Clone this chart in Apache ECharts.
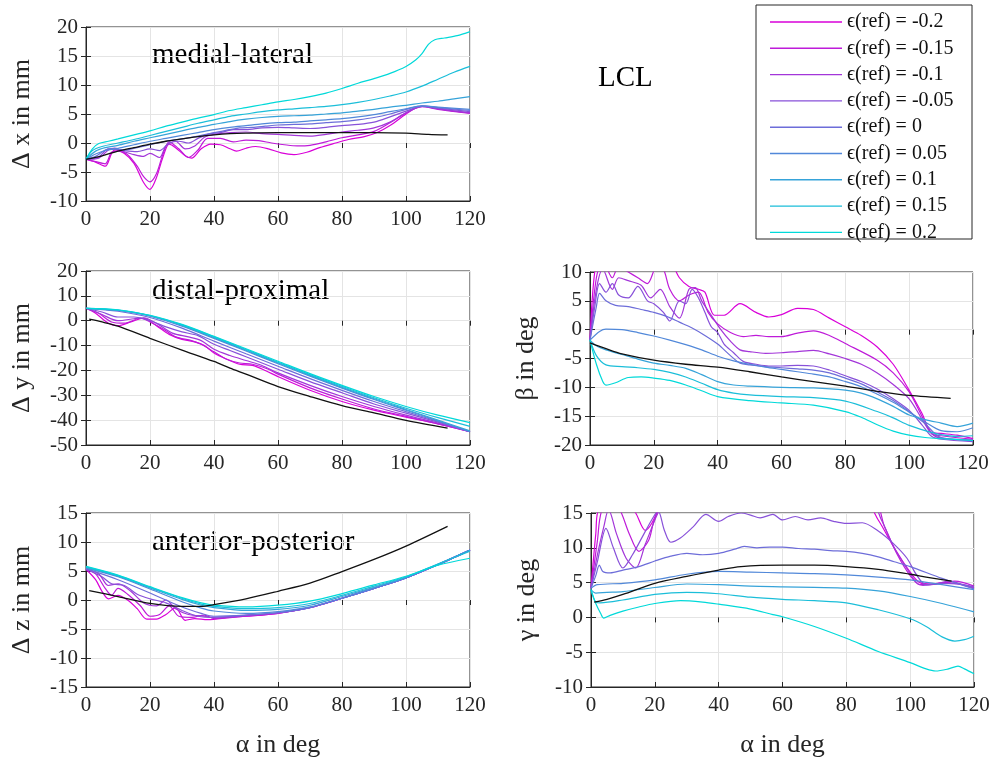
<!DOCTYPE html>
<html>
<head>
<meta charset="utf-8">
<script src="https://cdn.jsdelivr.net/npm/echarts@6/dist/echarts.min.js"></script>
<style>
  html, body { margin: 0; background: #fff; }
  #main { width: 995px; height: 761px; }
</style>
</head>
<body>
<div id="main"></div>
<script>
// Legend labels, one per reference strain
var epsLabels = ['ϵ(ref) = -0.2', 'ϵ(ref) = -0.15', 'ϵ(ref) = -0.1', 'ϵ(ref) = -0.05',
  'ϵ(ref) = 0', 'ϵ(ref) = 0.05', 'ϵ(ref) = 0.1', 'ϵ(ref) = 0.15', 'ϵ(ref) = 0.2'];

// Delta x (medial-lateral), [alpha, value]
var dxRef = [[0,-2.8],[5,-2.2],[10,-1.4],[15,-0.8],[20,-0.2],[25,0.3],[30,0.7],[35,1.1],[40,1.4],[45,1.6],[50,1.7],[60,1.8],[70,1.8],[80,1.8],[90,1.8],[100,1.7],[107,1.5],[113,1.4]];
var dxLines = [
  [[0,-2.8],[3,-3.3],[6,-4],[8,-1.8],[9,-1.2],[12,-1.8],[15,-3.5],[18,-6.8],[20,-8],[22,-6],[24,-2.5],[26,-0.2],[28,-0.8],[31,-2.2],[33,-2.6],[36,-1],[39,-0.2],[42,-0.3],[45,-1],[47,-1.4],[50,-0.9],[53,-0.6],[57,-1],[61,-1.7],[65,-2],[69,-1.6],[73,-0.8],[78,0],[82,0.6],[87,1.1],[91,1.8],[95,3],[100,5],[103,6],[106,6.3],[110,5.9],[115,5.5],[120,5.2]],
  [[0,-2.8],[3,-3.2],[6,-3.6],[8,-1.6],[10,-1.4],[13,-2],[16,-4],[18,-5.8],[20,-6.7],[22,-5.3],[24,-2],[26,0.2],[29,-1],[32,-2.5],[35,-1.2],[38,0.8],[42,0.8],[46,0.2],[50,0.5],[54,0.4],[58,0],[62,-0.3],[66,-0.5],[70,-0.4],[75,0.2],[80,0.9],[85,1.4],[90,2],[95,3.5],[100,5.2],[105,6.3],[110,5.8],[120,5.1]],
  [[0,-2.8],[4,-2.6],[7,-1.2],[9,-0.9],[12,-1.5],[15,-2],[18,-2.3],[20,-1.8],[23,-2.5],[25,-0.5],[28,0.3],[31,-1],[34,-0.5],[37,1],[40,1.5],[45,1.8],[50,1.9],[55,1.6],[60,1.5],[65,1.3],[70,1.2],[75,1.5],[80,1.9],[85,2.2],[90,2.6],[95,3.6],[100,5.2],[105,6.3],[110,5.9],[120,5.2]],
  [[0,-2.8],[4,-2.4],[7,-1],[9,-1],[12,-1.3],[16,-1.5],[20,-1],[23,-1.3],[26,0],[29,0.3],[32,0],[35,0.8],[38,1.5],[42,1.8],[46,2.3],[50,2.3],[55,2.6],[60,2.7],[65,2.6],[70,2.5],[75,2.7],[80,3],[85,3.2],[90,3.6],[95,4.5],[100,5.5],[105,6.3],[110,6],[120,5.4]],
  [[0,-2.8],[3,-2.3],[6,-1.2],[8,-1],[12,-1.2],[16,-0.8],[20,-0.3],[25,0.3],[30,0.7],[35,1.2],[40,1.8],[45,2.3],[48,2.6],[52,2.7],[56,2.9],[60,3.1],[65,3.2],[70,3.3],[75,3.5],[80,3.7],[85,4],[90,4.4],[95,5],[100,5.8],[105,6.4],[110,6.1],[120,5.6]],
  [[0,-2.8],[3,-1.9],[6,-1.3],[10,-0.9],[15,-0.3],[20,0.3],[25,0.8],[30,1.3],[35,1.8],[40,2.3],[45,2.7],[50,3],[55,3.3],[60,3.5],[65,3.6],[70,3.8],[75,4],[80,4.2],[85,4.5],[90,4.9],[95,5.4],[100,5.9],[105,6.4],[110,6.2],[120,5.8]],
  [[0,-2.8],[3,-1.4],[6,-0.8],[10,-0.4],[15,0.3],[20,0.9],[25,1.5],[30,2.1],[35,2.7],[40,3.2],[45,3.7],[50,4.1],[55,4.4],[60,4.6],[65,4.7],[70,4.8],[75,5],[80,5.2],[85,5.5],[90,5.8],[95,6.2],[100,6.5],[105,6.9],[110,7.2],[115,7.6],[120,8]],
  [[0,-2.8],[2,-1.3],[5,-0.6],[10,0],[15,0.6],[20,1.3],[25,2],[30,2.7],[35,3.4],[40,4],[45,4.6],[50,5],[55,5.4],[60,5.7],[65,5.9],[70,6.1],[75,6.3],[80,6.6],[85,7],[90,7.5],[95,8.1],[100,8.8],[105,9.8],[110,11],[115,12.2],[120,13.2]],
  [[0,-2.8],[2,-1],[4,-0.1],[7,0.3],[10,0.7],[15,1.4],[20,2.1],[25,2.9],[30,3.6],[35,4.3],[40,4.9],[45,5.6],[50,6.1],[55,6.6],[60,7.1],[65,7.5],[70,8],[75,8.6],[80,9.4],[85,10.3],[90,11.1],[95,12],[100,13.2],[103,14.3],[105,15.4],[107,17],[109,17.8],[112,18.1],[116,18.5],[120,19.2]]
];

// Delta y (distal-proximal)
var dyRef = [[1,0.6],[5,-0.5],[10,-2.2],[20,-7.1],[30,-11.8],[40,-16.4],[45,-19.1],[50,-21.5],[60,-26.5],[70,-30.5],[80,-34.2],[90,-37.1],[100,-40.1],[113,-43.2]];
var dyLines = [
  [[0,5],[3,3],[7,-1],[10,-2],[14,-0.5],[18,1],[22,-2],[26,-5.5],[30,-7.5],[34,-8.5],[37,-10],[40,-13],[44,-15.5],[48,-17.5],[52,-18],[56,-20],[60,-22.5],[70,-28],[80,-32.5],[90,-36],[100,-38.8],[110,-41.5],[120,-44.6]],
  [[0,5],[4,3],[8,-0.5],[12,-1],[17,1],[20,-0.5],[25,-4],[28,-6.5],[33,-8],[36,-9.5],[40,-12.5],[44,-15.5],[48,-17],[52,-17.5],[57,-19.5],[60,-21.5],[70,-27],[80,-31.5],[90,-35.5],[100,-38.5],[110,-41.5],[120,-44.6]],
  [[0,5],[5,2.5],[10,0],[15,0.8],[18,1.2],[22,-1],[27,-5],[32,-6.5],[36,-8],[40,-11.5],[45,-14],[50,-16],[55,-18],[60,-21],[70,-26],[80,-30.5],[90,-34.5],[100,-38],[110,-41.2],[120,-44.6]],
  [[0,5],[5,3.5],[10,1.5],[15,1.5],[20,0],[25,-2.5],[30,-4.5],[35,-6],[40,-9.5],[45,-12],[50,-14.5],[60,-19.5],[70,-24.5],[80,-29],[90,-33.5],[100,-37.2],[110,-40.8],[120,-44.6]],
  [[0,5],[10,3.8],[20,1.3],[30,-3],[40,-8.2],[50,-13.3],[60,-18.3],[70,-23.3],[80,-28],[90,-32.5],[100,-36.6],[110,-40.5],[120,-44.6]],
  [[0,5],[10,4.1],[20,1.8],[30,-2.2],[40,-7.1],[50,-12.2],[60,-17.3],[70,-22.3],[80,-27.1],[90,-31.7],[100,-36],[110,-40.3],[120,-44.6]],
  [[0,5],[10,4.2],[20,2],[30,-1.9],[40,-6.8],[50,-11.9],[60,-17],[70,-22],[80,-26.8],[90,-31.4],[100,-35.7],[110,-40],[120,-44.3]],
  [[0,5],[10,4.3],[20,2.1],[30,-1.7],[40,-6.5],[50,-11.6],[60,-16.7],[70,-21.7],[80,-26.4],[90,-31],[100,-35.2],[110,-39],[120,-42.5]],
  [[0,5],[10,4.4],[20,2.2],[30,-1.5],[40,-6.3],[50,-11.3],[60,-16.3],[70,-21.3],[80,-26],[90,-30.5],[100,-34.5],[110,-38],[120,-41]]
];

// Delta z (anterior-posterior)
var dzRef = [[1,1.6],[10,0.6],[20,-0.6],[30,-1.1],[36,-1.1],[40,-0.8],[50,0.2],[60,1.5],[70,2.9],[80,4.9],[90,7],[100,9.3],[113,12.7]];
var dzLines = [
  [[0,5.3],[3,3.5],[5,1.5],[7,0.2],[10,0.8],[13,0],[16,-1.5],[19,-3.3],[22,-3.3],[25,-2.5],[28,-1.3],[31,-3.5],[34,-3.2],[38,-3.4],[45,-3],[50,-2.8],[60,-2.3],[70,-1.3],[80,0.3],[90,2],[100,3.8],[110,6.1],[120,8.6]],
  [[0,5.3],[3,4.5],[6,2],[8,0.8],[10,2],[13,1],[17,-1],[20,-2.8],[23,-2.5],[26,-1],[29,-2.8],[33,-3],[37,-2.6],[40,-3.2],[50,-2.8],[60,-2.3],[70,-1.3],[80,0.3],[90,2],[100,3.8],[110,6.1],[120,8.6]],
  [[0,5.3],[4,4.5],[7,2.5],[10,2.8],[14,1.5],[18,-0.5],[22,-1],[25,0],[28,-1.5],[32,-2.5],[37,-2.8],[40,-3.1],[50,-2.7],[60,-2.2],[70,-1.3],[80,0.3],[90,2],[100,3.8],[110,6.1],[120,8.6]],
  [[0,5.3],[5,4],[8,2.8],[12,2.5],[16,1],[20,0.2],[25,-0.5],[30,-1.8],[35,-2.8],[40,-3],[50,-2.6],[60,-2.2],[70,-1.3],[80,0.3],[90,2],[100,3.8],[110,6.1],[120,8.6]],
  [[0,5.4],[10,3.5],[20,1.2],[30,-1.2],[36,-2.3],[40,-2.8],[50,-2.6],[60,-2.2],[70,-1.3],[80,0.3],[90,2],[100,3.8],[110,6.1],[120,8.6]],
  [[0,5.5],[10,4],[20,1.9],[30,-0.3],[36,-1.4],[40,-1.9],[50,-2.3],[60,-2],[70,-1.2],[80,0.3],[90,2],[100,3.8],[110,6.1],[120,8.6]],
  [[0,5.6],[10,4.1],[20,2.1],[30,0.1],[36,-0.9],[40,-1.3],[50,-1.8],[60,-1.6],[70,-0.9],[80,0.6],[90,2.2],[100,3.9],[110,6.2],[120,8.6]],
  [[0,5.7],[10,4.2],[20,2.2],[30,0.3],[36,-0.7],[40,-1.1],[50,-1.5],[60,-1.3],[70,-0.6],[80,0.8],[90,2.4],[100,4],[110,6.2],[120,8.4]],
  [[0,5.8],[10,4.3],[20,2.3],[30,0.4],[36,-0.5],[40,-0.9],[50,-1.2],[60,-0.9],[70,-0.2],[80,1.1],[90,2.6],[100,4.1],[110,6],[120,7.2]]
];

// beta in deg
var betaRef = [[0,-2.3],[5,-3.3],[10,-4.2],[20,-5.3],[30,-6],[40,-6.5],[50,-7.3],[60,-8.2],[70,-9],[80,-9.8],[90,-10.7],[100,-11.4],[113,-11.9]];
var betaLines = [
  [[0,-1.8],[2,12],[5,14],[10,12],[15,11],[20,13],[25,12],[28,9],[31,7.5],[34,7],[36,6.5],[39,2.5],[42,2.5],[47,4.5],[52,3],[56,2.2],[60,2.6],[65,3.7],[70,3.5],[75,2],[80,0.5],[85,-1],[90,-3],[95,-6],[100,-10.5],[104,-14.5],[107,-17.8],[110,-18],[115,-18.3],[120,-18.9]],
  [[0,-1.8],[2,9],[4,12],[7,9],[9,11],[12,10],[15,9],[18,8],[21,11],[23,10.5],[25,7],[28,5],[31,6],[34,6.5],[37,3],[40,1],[44,-0.5],[48,-1.2],[52,-1],[56,-1.2],[60,-1.2],[65,-0.6],[70,-0.2],[75,-1],[80,-2.4],[90,-5.3],[95,-7.5],[100,-10.8],[104,-15],[107,-18],[110,-18.4],[120,-19]],
  [[0,-1.8],[2,7],[4,10.5],[7,7],[9,9],[12,8.5],[16,7.7],[19,5.5],[22,7],[25,4],[28,2],[31,7],[33,7.3],[35,5],[38,2.5],[41,0],[44,-2],[47,-3.5],[50,-3.8],[55,-4.1],[60,-4],[65,-3.8],[70,-3.6],[75,-4.2],[80,-5],[85,-6],[90,-7.5],[95,-9.5],[100,-12],[104,-15.5],[107,-18],[110,-18.8],[120,-19.1]],
  [[0,-1.8],[1.5,4],[3,8],[5,6.5],[7,8],[9,6],[12,5.5],[15,7.5],[18,5],[20,4.5],[23,3],[25,1.5],[28,5],[30,4.5],[32,7],[34,5.5],[36,3],[38,0.5],[40,-0.5],[42,-2.5],[45,-4],[48,-5.5],[52,-6],[56,-6.3],[60,-6.3],[65,-6.2],[70,-6.3],[75,-7],[80,-8],[85,-9],[90,-10.3],[95,-12],[100,-14],[104,-16.5],[107,-18.5],[110,-19],[120,-19.4]],
  [[0,-1.8],[2,4],[3,6.3],[5,5],[8,4.2],[12,4],[16,3.5],[20,3],[24,2.3],[28,1.3],[32,0.3],[36,-1],[40,-2.5],[44,-4.5],[47,-5.8],[50,-6.1],[55,-6.4],[60,-6.6],[65,-6.8],[70,-7],[75,-7.5],[80,-8.4],[85,-9.4],[90,-10.8],[95,-12.3],[100,-14.2],[105,-16.3],[108,-18],[110,-18.7],[120,-19.3]],
  [[0,-1.8],[3,-0.3],[5,0.1],[10,0],[15,-0.5],[20,-1.1],[25,-1.8],[30,-2.6],[35,-3.5],[40,-4.6],[45,-5.4],[50,-6],[55,-6.5],[60,-6.9],[65,-7.3],[70,-7.7],[75,-8.2],[80,-9],[85,-9.9],[90,-11.2],[95,-12.6],[100,-14.3],[105,-16],[110,-17.5],[115,-17.7],[120,-17]],
  [[0,-1.8],[2,-2.8],[5,-3.5],[10,-4.3],[15,-5.1],[20,-5.8],[25,-6.2],[30,-6.7],[35,-7.8],[40,-9],[45,-9.6],[50,-9.8],[60,-10],[70,-10.1],[80,-10.5],[85,-11],[90,-12],[95,-13.3],[100,-14.8],[105,-15.6],[110,-16.2],[115,-16.8],[120,-16.2]],
  [[0,-1.8],[2,-4.5],[5,-6.1],[10,-6.4],[15,-6.6],[20,-6.9],[25,-7.4],[30,-8.2],[35,-9.3],[40,-10.4],[45,-11],[50,-11.3],[60,-11.6],[70,-11.8],[80,-12.4],[90,-14.2],[95,-15.3],[100,-16.6],[105,-17.5],[110,-18.2],[115,-18.5],[120,-18.4]],
  [[0,-1.8],[2,-6],[4,-9],[5,-9.6],[8,-9.2],[12,-8.3],[16,-8.2],[20,-8.4],[25,-8.8],[30,-9.6],[35,-10.6],[40,-11.6],[50,-12.3],[60,-12.7],[70,-13.1],[80,-14.2],[85,-15.2],[90,-16.5],[95,-17.6],[100,-18.3],[105,-18.7],[110,-18.9],[120,-19.2]]
];

// gamma in deg
var gammaRef = [[1,2.2],[5,2.6],[10,3.3],[20,4.9],[30,5.9],[40,6.8],[47,7.3],[60,7.5],[70,7.5],[80,7.3],[90,6.9],[100,6.2],[105,5.8],[113,5.2]];
var gammaLines = [
  [[0,4.2],[1.5,12],[2.5,15.5],[12,16],[14,15],[17,12.5],[19,13.5],[21,15.5],[22,17],[85,17],[90,14],[95,10],[100,6.5],[103,5],[107,4.8],[110,5],[115,4.8],[120,4.2]],
  [[0,4.2],[2,11],[3.5,15.5],[7,16],[9,15.5],[12,12],[15,9.5],[18,11],[19.5,13.5],[21,15.5],[22,17],[88,17],[92,13],[96,9],[100,6],[103,4.7],[106,4.7],[110,4.9],[114,5.2],[120,4.5]],
  [[0,4.2],[2,9],[4,13],[5.5,15.5],[8,12],[11,8.5],[14,7.1],[17,10.5],[20,14],[21.5,15.5],[23,17],[87,17],[91,14],[95,10],[99,7],[102,5],[104,4.6],[108,4.8],[112,5.2],[116,4.8],[120,4.3]],
  [[0,4.2],[2,8],[4.7,12.8],[7,10],[10,7.1],[13,9],[16,11.5],[19,14],[21,15.3],[23,12.5],[25,10.8],[28,11.4],[32,13],[36,14.8],[40,13.8],[43,14.5],[47,15],[50,14.7],[53,14.3],[57,14.8],[60,14],[64,14.5],[68,14],[72,14.3],[76,13.8],[80,13.5],[85,13.6],[90,12.4],[95,10.5],[99,8.5],[102,6.1],[105,4.7],[110,4.9],[115,4.8],[120,4.4]],
  [[0,4.2],[1.5,6],[2.6,7.5],[3.7,6.6],[6,6.4],[10,6.8],[15,7.3],[20,8.1],[25,8.8],[30,9.2],[35,9],[40,9.2],[45,9.8],[48,10.2],[52,10],[56,10.1],[60,10.1],[65,9.9],[70,9.8],[75,9.6],[80,9.5],[85,9.2],[90,8.7],[95,8],[100,7.3],[110,5.6],[120,4.1]],
  [[0,4.2],[2,4.7],[10,4.9],[20,5.4],[30,6.2],[40,6.6],[50,6.5],[60,6.4],[70,6.3],[80,6.1],[90,5.8],[100,5.4],[110,4.7],[120,4]],
  [[0,4],[1.5,3.5],[5,3.6],[10,3.7],[20,4.3],[30,4.8],[40,4.7],[50,4.5],[60,4.4],[70,4.3],[80,4.2],[90,3.8],[100,3],[110,2],[120,0.8]],
  [[0,4],[1.5,2.2],[3,2.1],[10,2.5],[20,3.3],[30,3.6],[40,3.4],[50,2.9],[60,2.6],[70,2.4],[80,2.1],[90,1.1],[100,-0.2],[105,-1.3],[110,-2.8],[114,-3.4],[117,-3.2],[120,-2.7]],
  [[0,4],[1.5,2],[3,0.6],[4,-0.1],[6,0.3],[10,0.9],[15,1.5],[20,2],[28,2.4],[35,2.2],[40,1.9],[50,1.2],[57,0.4],[60,0.1],[70,-1.3],[80,-3],[90,-4.9],[100,-6.5],[105,-7.4],[108,-7.7],[112,-7.4],[115,-7],[117,-7.4],[120,-8.1]]
];

var FONT = "'Liberation Serif', 'Times New Roman', serif";
var INK = '#262626';
var lineColors = ['#d900d9', '#be1bd9', '#a336d9', '#8851d9', '#6d6dd9', '#5188d9', '#36a3d9', '#1bbed9', '#00d9d9'];

var panels = [
  { left: 86, top: 27, width: 384, height: 174, yMin: -10, yMax: 20, yStep: 5, yName: 'Δ x in mm', xName: '', ref: dxRef, lines: dxLines },
  { left: 86, top: 271, width: 384, height: 174, yMin: -50, yMax: 20, yStep: 10, yName: 'Δ y in mm', xName: '', ref: dyRef, lines: dyLines },
  { left: 86, top: 513, width: 384, height: 174, yMin: -15, yMax: 15, yStep: 5, yName: 'Δ z in mm', xName: 'α in deg', ref: dzRef, lines: dzLines },
  { left: 590, top: 272, width: 383, height: 173, yMin: -20, yMax: 10, yStep: 5, yName: 'β in deg', xName: '', ref: betaRef, lines: betaLines },
  { left: 591, top: 513, width: 383, height: 174, yMin: -10, yMax: 15, yStep: 5, yName: 'γ in deg', xName: 'α in deg', ref: gammaRef, lines: gammaLines }
];

var grids = [], xAxes = [], yAxes = [], series = [];
var tick = { show: true, inside: true, length: 5, lineStyle: { color: INK } };
var labelStyle = { fontFamily: FONT, fontSize: 21, color: INK, margin: 8, showMinLabel: true, showMaxLabel: true };

panels.forEach(function (p, k) {
  grids.push({ left: p.left, top: p.top, width: p.width, height: p.height,
    show: true, borderColor: INK, borderWidth: 1, containLabel: false });
  xAxes[k] = {
    type: 'value', gridIndex: k, min: 0, max: 120, interval: 20,
    axisLine: { show: true, onZero: false, lineStyle: { color: INK } },
    axisTick: tick, axisLabel: labelStyle,
    splitLine: { show: true, lineStyle: { color: '#e4e4e4', width: 1 } },
    name: p.xName, nameLocation: 'middle', nameGap: 45,
    nameTextStyle: { fontFamily: FONT, fontSize: 26, color: INK }
  };
  xAxes[k + 5] = {
    type: 'value', gridIndex: k, position: 'top', min: 0, max: 120, interval: 20,
    axisLine: { show: false }, axisTick: tick, axisLabel: { show: false }, splitLine: { show: false }
  };
  yAxes[k] = {
    type: 'value', gridIndex: k, min: p.yMin, max: p.yMax, interval: p.yStep,
    axisLine: { show: true, onZero: false, lineStyle: { color: INK } },
    axisTick: tick, axisLabel: labelStyle,
    splitLine: { show: true, lineStyle: { color: '#e4e4e4', width: 1 } },
    name: p.yName, nameLocation: 'middle', nameGap: 51, nameRotate: 90,
    nameTextStyle: { fontFamily: FONT, fontSize: 26, color: INK }
  };
  yAxes[k + 5] = {
    type: 'value', gridIndex: k, position: 'right', min: p.yMin, max: p.yMax, interval: p.yStep,
    axisLine: { show: false }, axisTick: tick, axisLabel: { show: false }, splitLine: { show: false }
  };

  p.lines.forEach(function (d, i) {
    series.push({
      type: 'line', name: epsLabels[i], xAxisIndex: k, yAxisIndex: k, data: d,
      symbol: 'none', smooth: 0.3, clip: true, silent: true,
      lineStyle: { width: 1.2, color: lineColors[i] }, itemStyle: { color: lineColors[i] }
    });
  });
  series.push({
    type: 'line', name: 'reference', xAxisIndex: k, yAxisIndex: k, data: p.ref,
    symbol: 'none', smooth: 0.3, clip: true, silent: true,
    lineStyle: { width: 1.3, color: '#111' }, itemStyle: { color: '#111' }
  });
});

var myChart = echarts.init(document.getElementById('main'));
myChart.setOption({
  animation: false,
  backgroundColor: '#fff',
  grid: grids,
  xAxis: xAxes,
  yAxis: yAxes,
  legend: {
    data: epsLabels, orient: 'vertical', left: 770, top: 12, padding: 0,
    icon: 'rect', itemWidth: 72, itemHeight: 1.4, itemGap: 6.3, selectedMode: false,
    textStyle: { fontFamily: FONT, fontSize: 20, lineHeight: 20, color: '#111' }
  },
  graphic: [
    { type: 'rect', shape: { x: 756, y: 5, width: 216, height: 234 }, style: { fill: 'none', stroke: INK, lineWidth: 1 } },
    { type: 'text', left: 152, top: 41, style: { text: 'medial-lateral', font: '29px ' + FONT, fill: '#000' } },
    { type: 'text', left: 152, top: 277, style: { text: 'distal-proximal', font: '29px ' + FONT, fill: '#000' } },
    { type: 'text', left: 152, top: 528, style: { text: 'anterior-posterior', font: '29px ' + FONT, fill: '#000' } },
    { type: 'text', left: 598, top: 64, style: { text: 'LCL', font: '29px ' + FONT, fill: '#000' } }
  ],
  series: series
});
</script>
</body>
</html>
